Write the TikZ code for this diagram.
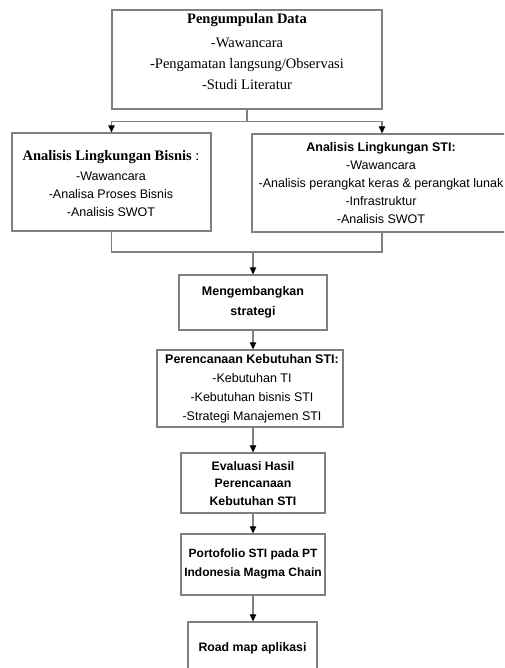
\documentclass[tikz,border=0pt]{standalone}
\usepackage{fontspec}
\setmainfont{Liberation Serif}
\setsansfont{Liberation Sans}
\usetikzlibrary{arrows.meta}

\tikzset{
  kotak/.style={draw=black!50, line width=1.3pt, inner sep=0pt},
  teks/.style={align=center, inner sep=0pt, text=black},
  garis/.style={draw=black!50, line width=1.2pt},
  panah/.style={garis, -{Triangle[length=7pt,width=6.5pt,color=black]}}
}

\begin{document}
\begin{tikzpicture}[x=1pt,y=-1pt]
  \useasboundingbox (0,0) rectangle (504,668);
  \clip (0,0) rectangle (504,668);
  \fill[white] (0,0) rectangle (504,668);

  \node[kotak, minimum width=270pt, minimum height=99pt] (data) at (247,59.5) {};
  \node[teks, font=\rmfamily\fontsize{14.5}{21}\selectfont] (data-t) at (247,51.5)
    {\textbf{Pengumpulan Data}\\[3pt]-Wawancara\\-Pengamatan langsung/Observasi\\-Studi Literatur};

  \node[kotak, minimum width=199pt, minimum height=98pt] (bisnis) at (111.5,182) {};
  \node[teks, font=\sffamily\fontsize{12.5}{18}\selectfont] (bisnis-t) at (111,183.5)
    {{\rmfamily\fontsize{14.5}{18}\selectfont\textbf{Analisis Lingkungan Bisnis} :}\\[2pt]-Wawancara\\-Analisa Proses Bisnis\\-Analisis SWOT};

  \node[kotak, minimum width=260pt, minimum height=98pt] (sti) at (382,183) {};
  \node[teks, font=\sffamily\fontsize{12.5}{18}\selectfont] (sti-t) at (381,183)
    {\textbf{Analisis Lingkungan STI:}\\-Wawancara\\-Analisis perangkat keras \& perangkat lunak\\-Infrastruktur\\-Analisis SWOT};

  \node[kotak, minimum width=148pt, minimum height=55pt] (strategi) at (253,302.5) {};
  \node[teks, font=\sffamily\bfseries\fontsize{12.5}{20}\selectfont] (strategi-t) at (253,302)
    {Mengembangkan\\strategi};

  \node[kotak, minimum width=186pt, minimum height=77pt] (rencana) at (250,388.5) {};
  \node[teks, font=\sffamily\fontsize{12.5}{19}\selectfont] (rencana-t) at (252,388.5)
    {\textbf{Perencanaan Kebutuhan STI:}\\-Kebutuhan TI\\-Kebutuhan bisnis STI\\-Strategi Manajemen STI};

  \node[kotak, minimum width=144pt, minimum height=60pt] (evaluasi) at (253,483) {};
  \node[teks, font=\sffamily\bfseries\fontsize{12.3}{17.5}\selectfont] (evaluasi-t) at (253,483.5)
    {Evaluasi Hasil\\Perencanaan\\Kebutuhan STI};

  \node[kotak, minimum width=144pt, minimum height=61pt] (porto) at (253,564.5) {};
  \node[teks, font=\sffamily\bfseries\fontsize{12}{19}\selectfont] (porto-t) at (253,563.5)
    {Portofolio STI pada PT\\Indonesia Magma Chain};

  \node[kotak, minimum width=129pt, minimum height=52pt] (roadmap) at (252.5,648) {};
  \node[teks, font=\sffamily\bfseries\fontsize{12.3}{18}\selectfont] (roadmap-t) at (252.5,648)
    {Road map aplikasi};

  \draw[panah] (data.south) -- ++(0,12) -| (bisnis.north);
  \draw[panah] (data.south) -- ++(0,12) -| (sti.north);

  \coordinate (gabung) at (253,252);
  \draw[garis] (bisnis.south) |- (gabung) -| (sti.south);
  \draw[panah] (gabung) -- (strategi.north);

  \draw[panah] (strategi.south) -- (strategi.south |- rencana.north);
  \draw[panah] (evaluasi.north |- rencana.south) -- (evaluasi.north);
  \draw[panah] (evaluasi.south) -- (porto.north);
  \draw[panah] (porto.south) -- (porto.south |- roadmap.north);
\end{tikzpicture}
\end{document}
